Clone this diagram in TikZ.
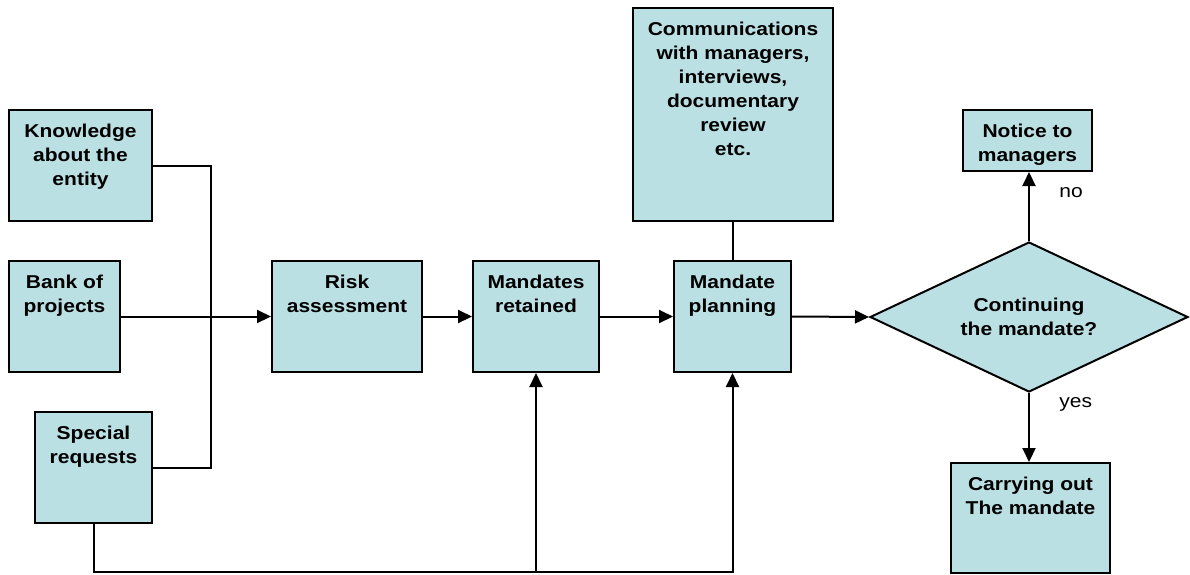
\documentclass[tikz,border=0pt]{standalone}
\usepackage{fontspec}
\setmainfont{Liberation Sans}[FakeStretch=1.13]
\definecolor{boxfill}{HTML}{BBE0E3}
\usepackage{tikz}
\usetikzlibrary{arrows.meta, positioning, shapes, calc}

\begin{document}
\begin{tikzpicture}[x=1pt, y=-1pt,
    procbox/.style 2 args={draw, fill=boxfill, line width=2pt,
      minimum width=#1pt, minimum height=#2pt, inner sep=0pt},
    boxtext/.style={anchor=north, align=center, inner sep=0pt, yshift=-14.5pt,
      font=\bfseries\fontsize{18.6}{24}\selectfont},
    line/.style={line width=2pt},
    arrow/.style={line width=2pt, -{Triangle[length=14pt, width=13pt]}},
    answer/.style={right=26pt, font=\fontsize{18.6}{24}\selectfont}]
  \useasboundingbox (0,0) rectangle (1190,574);
  % Inputs
  \node[procbox={143}{111}, label={[boxtext]north:{Knowledge\\about the\\entity}}]
    (know) at (80.5,165.5) {};
  \node[procbox={111}{111}, label={[boxtext]north:{Bank of\\projects}}]
    (bank) at (64.5,316.5) {};
  \node[procbox={117}{111}, label={[boxtext]north:{Special\\requests}}]
    (special) at (93.5,467.5) {};
  % Main chain
  \node[procbox={150}{111}, label={[boxtext]north:{Risk\\assessment}}]
    (risk) at (347,316.5) {};
  \node[procbox={126}{111}, label={[boxtext]north:{Mandates\\retained}}]
    (retained) at (536,316.5) {};
  \node[procbox={117}{111}, label={[boxtext]north:{Mandate\\planning}}]
    (planning) at (732.5,316.5) {};
  \node[procbox={200}{213},
    label={[boxtext]north:{Communications\\with managers,\\interviews,\\documentary\\review\\etc.}}]
    (comms) at (733,114.5) {};
  % Decision
  \node[diamond, draw, fill=boxfill, line width=2pt, aspect=2.12,
    minimum width=318pt, minimum height=150pt, inner sep=0pt, align=center,
    font=\bfseries\fontsize{18.6}{24}\selectfont]
    (decision) at (1029,317) {Continuing\\the mandate?};
  \node[procbox={129}{61}, label={[boxtext]north:{Notice to\\managers}}]
    (notice) at (1027.5,140.5) {};
  \node[procbox={159}{110}, label={[boxtext]north:{Carrying out\\The mandate}}]
    (carry) at (1030.5,518) {};
  % Junctions
  \coordinate (merge) at (211,316.5);
  \coordinate (base) at (93.5,572);
  % Connectors
  \draw[line] (know.east) -| (merge);
  \draw[line] (special.east) -| (merge);
  \draw[arrow] (bank.east) -- (risk.west);
  \draw[arrow] (risk.east) -- (retained.west);
  \draw[arrow] (retained.east) -- (planning.west);
  \draw[arrow] (planning.east) -- (decision.west);
  \draw[line] (planning.north) -- (planning.north |- comms.south);
  \draw[arrow] (special.south) -- (base) -| (planning.south);
  \draw[arrow] (base -| retained.south) -- (retained.south);
  \draw[arrow] (decision.north) -- (decision.north |- notice.south)
    node[answer, pos=0.7] {no};
  \draw[arrow] (decision.south) -- (decision.south |- carry.north)
    node[answer, pos=0.17] {yes};
\end{tikzpicture}
\end{document}
